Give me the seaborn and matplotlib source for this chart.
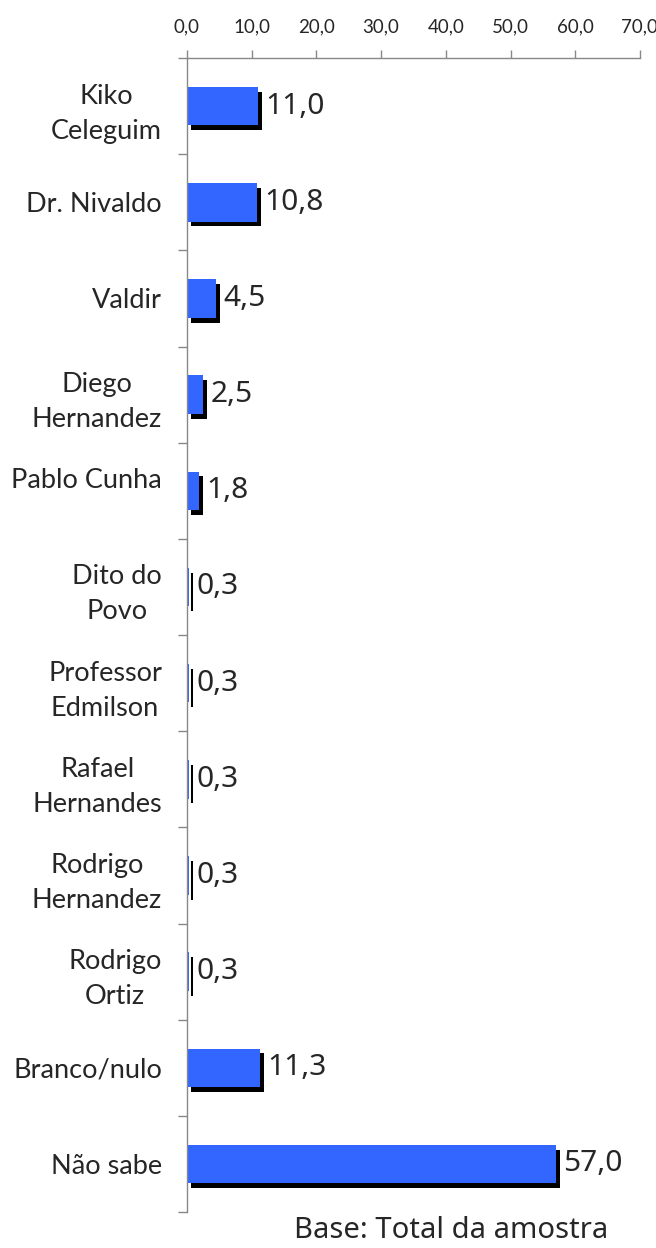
import matplotlib.pyplot as plt
import matplotlib.patheffects as pe
import numpy as np
import pandas as pd
import seaborn as sns

candidates = ['Kiko\nCeleguim', 'Dr. Nivaldo', 'Valdir', 'Diego\nHernandez',
              'Pablo Cunha\n', 'Dito do\nPovo', 'Professor\nEdmilson',
              'Rafael\nHernandes', 'Rodrigo\nHernandez', 'Rodrigo\nOrtiz',
              'Branco/nulo', 'Não sabe']
values = [11.0, 10.8, 4.5, 2.5, 1.8, 0.3, 0.3, 0.3, 0.3, 0.3, 11.3, 57.0]
x_ticks = [0, 10, 20, 30, 40, 50, 60, 70]
footer = 'Base: Total da amostra'

df = pd.DataFrame({'candidato': candidates, 'pct': values})

sns.set_style('white')
plt.rcParams['font.family'] = ['Lato', 'DejaVu Sans']

fig = plt.figure(figsize=(6.56, 12.48), dpi=100)
ax = fig.add_axes([0.285, 0.0288, 0.6905, 0.9247])

sns.barplot(data=df, x='pct', y='candidato', orient='h', color='#3366FF',
            saturation=1, width=0.4, ax=ax)

# black drop shadow under each bar
shadow = [pe.SimplePatchShadow(offset=(3, -3.5), shadow_rgbFace='black',
                               alpha=1), pe.Normal()]
for bar in ax.patches:
    bar.set_path_effects(shadow)
    bar.set_linewidth(0)

for i, v in enumerate(values):
    ax.annotate(f'{v:.1f}'.replace('.', ','), xy=(v, i), xytext=(5.5, 0),
                textcoords='offset points', va='center', ha='left',
                fontsize=21.5, family='Noto Sans')

ax.set_xlim(0, 70)
ax.set_ylim(11.5, -0.5)
ax.xaxis.tick_top()
ax.set_xticks(x_ticks)
ax.set_xticklabels([f'{t:.1f}'.replace('.', ',') for t in x_ticks],
                   fontsize=13.5)
ax.tick_params(axis='x', direction='out', length=6, color='#888888',
               width=1, pad=10, top=True, bottom=False)

ax.set_yticks(range(len(candidates)))
ax.set_yticklabels(candidates, fontsize=19.5, multialignment='center',
                   linespacing=1.5)
ax.set_yticks(np.arange(-0.5, len(candidates), 1), minor=True)
ax.tick_params(axis='y', which='major', length=0, pad=18)
ax.tick_params(axis='y', which='minor', length=6.5, color='#888888', width=1,
               left=True)

ax.set_xlabel('')
ax.set_ylabel('')
for side in ['right', 'bottom']:
    ax.spines[side].set_visible(False)
for side in ['top', 'left']:
    ax.spines[side].set_color('#888888')
    ax.spines[side].set_linewidth(1)

fig.text(0.688, 1 - 1230 / 1248, footer, ha='center', va='center',
         fontsize=21, family='Noto Sans')

fig.savefig('out.png', dpi=100)
